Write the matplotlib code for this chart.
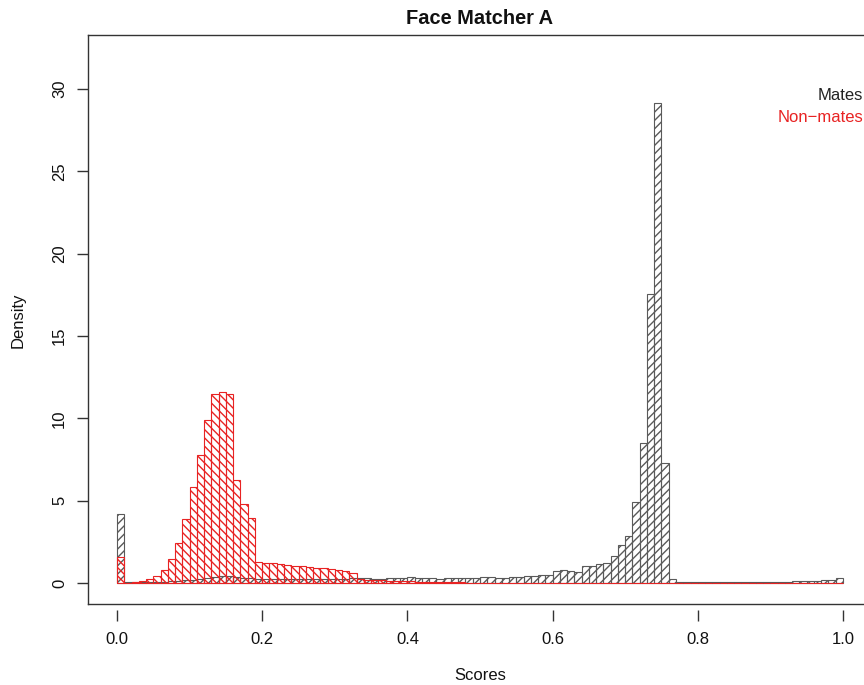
import numpy as np
import matplotlib
matplotlib.use("Agg")
import matplotlib.pyplot as plt

plt.rcParams['font.family'] = ['Liberation Sans', 'DejaVu Sans']
plt.rcParams['hatch.linewidth'] = 1.0

# Histogram densities per score bin (bin width 0.01, 0.00 .. 1.00)
bin_width = 0.01
mates = [
    4.2, 0.03, 0.03, 0.04, 0.05, 0.06, 0.08, 0.1, 0.12, 0.15,
    0.18, 0.22, 0.3, 0.38, 0.42, 0.4, 0.35, 0.3, 0.28, 0.25,
    0.24, 0.25, 0.24, 0.26, 0.25, 0.24, 0.25, 0.26, 0.25, 0.24,
    0.26, 0.25, 0.27, 0.3, 0.28, 0.26, 0.25, 0.28, 0.27, 0.3,
    0.34, 0.3, 0.28, 0.27, 0.26, 0.27, 0.28, 0.27, 0.29, 0.3,
    0.36, 0.33, 0.3, 0.32, 0.35, 0.38, 0.42, 0.45, 0.5, 0.5,
    0.75, 0.78, 0.72, 0.68, 1.05, 1.0, 1.15, 1.22, 1.66, 2.33,
    2.83, 4.9, 8.5, 17.55, 29.15, 7.3, 0.24, 0.08, 0.05, 0.04,
    0.04, 0.04, 0.04, 0.04, 0.05, 0.05, 0.05, 0.05, 0.06, 0.06,
    0.07, 0.07, 0.08, 0.09, 0.1, 0.11, 0.13, 0.15, 0.18, 0.28,
]
non_mates = [
    1.56, 0.02, 0.05, 0.1, 0.24, 0.45, 0.81, 1.46, 2.43, 3.89,
    5.82, 7.79, 9.88, 11.46, 11.6, 11.46, 6.23, 4.81, 3.94, 1.26,
    1.22, 1.2, 1.15, 1.1, 1.02, 1.0, 0.95, 0.93, 0.9, 0.85,
    0.8, 0.72, 0.62, 0.25, 0.2, 0.16, 0.15, 0.13, 0.12, 0.1,
    0.1, 0.08, 0.07, 0.06, 0.05, 0.04, 0.03, 0.03, 0.02, 0.02,
    0.02, 0.01, 0, 0, 0, 0, 0, 0, 0, 0,
    0, 0, 0, 0, 0, 0, 0, 0, 0, 0,
    0, 0, 0, 0, 0, 0, 0, 0, 0, 0,
    0, 0, 0, 0, 0, 0, 0, 0, 0, 0,
    0, 0, 0, 0, 0, 0, 0, 0, 0, 0,
]
bin_left = np.arange(len(mates)) * bin_width

x_ticks = [0.0, 0.2, 0.4, 0.6, 0.8, 1.0]
x_tick_labels = ["0.0", "0.2", "0.4", "0.6", "0.8", "1.0"]
y_ticks = [0, 5, 10, 15, 20, 25, 30]
series_names = ["Mates", "Non\u2212mates"]

W, H = 864, 685
fig = plt.figure(figsize=(W / 100, H / 100), dpi=100)
ax = fig.add_axes([88 / W, (H - 604) / H, (872 - 88) / W, (604 - 35) / H])

gray = "#5a5a5a"
red = "#e82323"

ax.bar(bin_left, mates, width=bin_width, align="edge", facecolor="none",
       edgecolor=gray, linewidth=0.8, hatch="////")
ax.bar(bin_left, non_mates, width=bin_width, align="edge", facecolor="none",
       edgecolor=red, linewidth=0.8, hatch="\\\\\\\\")

ax.set_xlim(-0.04, 1.04)
ax.set_ylim(-1.28, 33.28)

# box around the plotting region
for s in ax.spines.values():
    s.set_color("#333333")
    s.set_linewidth(1.0)
ax.spines["bottom"].set_visible(False)
ax.plot([0, 1], [0, 0], transform=ax.transAxes, color="#333333", lw=1.0,
        clip_on=False)
ax.spines["bottom"].set_position(("outward", 4))

ax.set_xticks(x_ticks)
ax.set_xticklabels(x_tick_labels)
ax.set_yticks(y_ticks)
ax.set_yticklabels([str(v) for v in y_ticks], rotation=90, va="center")
ax.tick_params(axis="both", direction="out", length=8, width=1.0,
               color="#333333", labelsize=12, labelcolor="#111111")
ax.tick_params(axis="x", pad=8)
ax.tick_params(axis="y", pad=7)

fig.text(480 / W, 1 - 18 / H, "Face Matcher A", ha="center", va="center",
         fontsize=14.4, fontweight="bold", color="#111111")
fig.text(480 / W, 1 - 675 / H, "Scores", ha="center", va="center",
         fontsize=12, color="#111111")
fig.text(18 / W, 1 - 320 / H, "Density", ha="center", va="center",
         rotation=90, fontsize=12, color="#111111")

fig.text(863 / W, 1 - 96 / H, series_names[0], ha="right", va="center",
         fontsize=12, color="#222222")
fig.text(863 / W, 1 - 117 / H, series_names[1], ha="right", va="center",
         fontsize=12, color=red)

fig.savefig("out.png", dpi=100)
